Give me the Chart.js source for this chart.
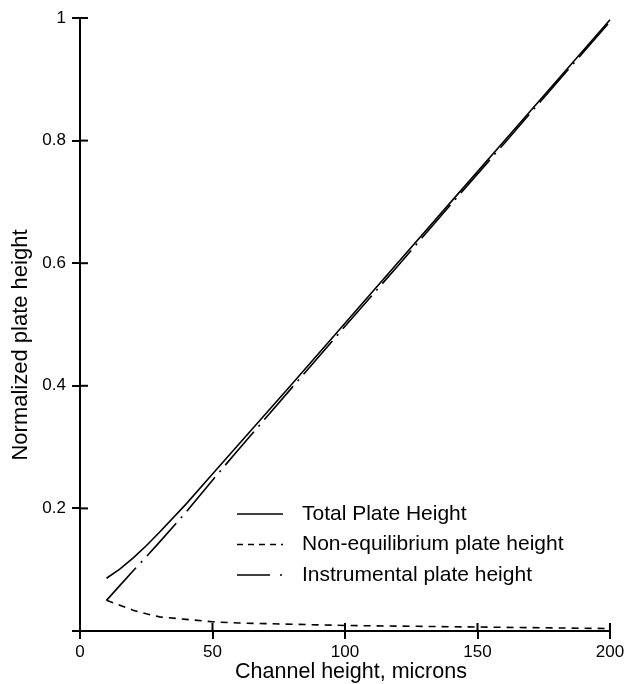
<!DOCTYPE html>
<html>
<head>
<meta charset="utf-8">
<script src="https://cdn.jsdelivr.net/npm/chart.js@4/dist/chart.umd.min.js"></script>
<style>
  html, body { margin: 0; padding: 0; background: #fff; }
  #wrap { width: 628px; height: 684px; }
</style>
</head>
<body>
<div id="wrap"><canvas id="plateChart" width="628" height="684"></canvas></div>
<script>
// values
var channelHeight = [10, 15, 20, 25, 30, 40, 50, 60, 70, 80, 100, 120, 140, 160, 180, 200];
var totalPlate    = [0.086, 0.101, 0.119, 0.139, 0.161, 0.207, 0.256, 0.305, 0.354, 0.403, 0.502, 0.601, 0.700, 0.799, 0.898, 0.997];
var nonEqPlate    = [0.050, 0.042, 0.034, 0.028, 0.023, 0.019, 0.015, 0.013, 0.012, 0.011, 0.009, 0.008, 0.007, 0.006, 0.005, 0.004];
var instPlate     = [0.050, 0.074, 0.098, 0.121, 0.145, 0.194, 0.246, 0.297, 0.347, 0.397, 0.497, 0.596, 0.696, 0.795, 0.895, 0.994];
var xTicks = [0, 50, 100, 150, 200];
var yTicks = [0, 0.2, 0.4, 0.6, 0.8, 1];
var seriesNames = ['Total Plate Height', 'Non-equilibrium plate height', 'Instrumental plate height'];
var xTitle = 'Channel height, microns';
var yTitle = 'Normalized plate height';

var FONT = "'Liberation Sans', Arial, Helvetica, sans-serif";

function toPoints(ys) {
  var pts = [];
  for (var i = 0; i < channelHeight.length; i++) {
    pts.push({ x: channelHeight[i], y: ys[i] });
  }
  return pts;
}

// tick marks that cross the axis line (inner half; outer half comes from the grid ticks)
// plus the two axis titles, placed where the original has them
var axisExtras = {
  id: 'axisExtras',
  afterDraw: function(chart) {
    var ctx = chart.ctx;
    var xs = chart.scales.x, ys = chart.scales.y;
    ctx.save();
    ctx.strokeStyle = '#000';
    ctx.lineWidth = 2;
    xTicks.forEach(function(v) {
      var px = xs.getPixelForValue(v);
      ctx.beginPath();
      ctx.moveTo(px, xs.top);
      ctx.lineTo(px, xs.top - 8);
      ctx.stroke();
    });
    yTicks.forEach(function(v) {
      var py = ys.getPixelForValue(v);
      ctx.beginPath();
      ctx.moveTo(ys.right, py);
      ctx.lineTo(ys.right + 8, py);
      ctx.stroke();
    });
    ctx.fillStyle = '#000';
    ctx.textAlign = 'center';
    ctx.font = '21.5px ' + FONT;
    ctx.textBaseline = 'alphabetic';
    ctx.fillText(xTitle, 351, 678);
    ctx.font = '22px ' + FONT;
    ctx.textBaseline = 'middle';
    ctx.translate(21, 345);
    ctx.rotate(-Math.PI / 2);
    ctx.fillText(yTitle, 0, 0);
    ctx.restore();
  }
};

// legend drawn inside the plot, like the original
var legendDashes = [[], [6, 5], [33, 10, 2, 10]];
var insideLegend = {
  id: 'insideLegend',
  afterDraw: function(chart) {
    var ctx = chart.ctx;
    ctx.save();
    ctx.font = '21px ' + FONT;
    ctx.textBaseline = 'middle';
    ctx.fillStyle = '#000';
    chart.data.datasets.forEach(function(ds, i) {
      var y = 514 + i * 30.5;
      ctx.strokeStyle = '#000';
      ctx.lineWidth = 1.6;
      ctx.setLineDash(legendDashes[i]);
      ctx.beginPath();
      ctx.moveTo(237, y);
      ctx.lineTo(283, y);
      ctx.stroke();
      ctx.setLineDash([]);
      ctx.fillText(ds.label, 302, y);
    });
    ctx.restore();
  }
};

var ctx = document.getElementById('plateChart').getContext('2d');
var chart = new Chart(ctx, {
  type: 'line',
  data: {
    datasets: [
      { label: seriesNames[0], data: toPoints(totalPlate), borderColor: '#000', borderWidth: 1.6, pointRadius: 0, tension: 0, fill: false },
      { label: seriesNames[1], data: toPoints(nonEqPlate), borderColor: '#000', borderWidth: 1.6, borderDash: [7, 6], pointRadius: 0, tension: 0, fill: false },
      { label: seriesNames[2], data: toPoints(instPlate), borderColor: '#000', borderWidth: 1.6, borderDash: [44, 7, 2, 7], pointRadius: 0, tension: 0, fill: false }
    ]
  },
  options: {
    responsive: false,
    animation: false,
    clip: false,
    layout: { padding: { top: 18, right: 18, left: 0, bottom: 0 } },
    plugins: {
      legend: { display: false },
      tooltip: { enabled: false }
    },
    scales: {
      x: {
        type: 'linear',
        min: 0,
        max: 200,
        afterBuildTicks: function(scale) {
          scale.ticks = xTicks.map(function(v) { return { value: v }; });
        },
        afterFit: function(scale) { scale.height = 53; },
        ticks: { color: '#000', font: { family: FONT, size: 17 }, padding: 3, maxRotation: 0 },
        grid: { drawOnChartArea: false, drawTicks: true, tickLength: 8, color: '#000', lineWidth: 2 },
        border: { display: true, color: '#000', width: 2 }
      },
      y: {
        type: 'linear',
        min: 0,
        max: 1,
        afterBuildTicks: function(scale) {
          scale.ticks = yTicks.map(function(v) { return { value: v }; });
        },
        afterFit: function(scale) { scale.width = 80; },
        ticks: {
          color: '#000',
          font: { family: FONT, size: 17 },
          padding: 6,
          callback: function(v) { return v === 0 ? '' : String(Math.round(v * 10) / 10); }
        },
        grid: { drawOnChartArea: false, drawTicks: true, tickLength: 8, color: '#000', lineWidth: 2 },
        border: { display: true, color: '#000', width: 2 }
      }
    }
  },
  plugins: [axisExtras, insideLegend]
});
</script>
</body>
</html>
